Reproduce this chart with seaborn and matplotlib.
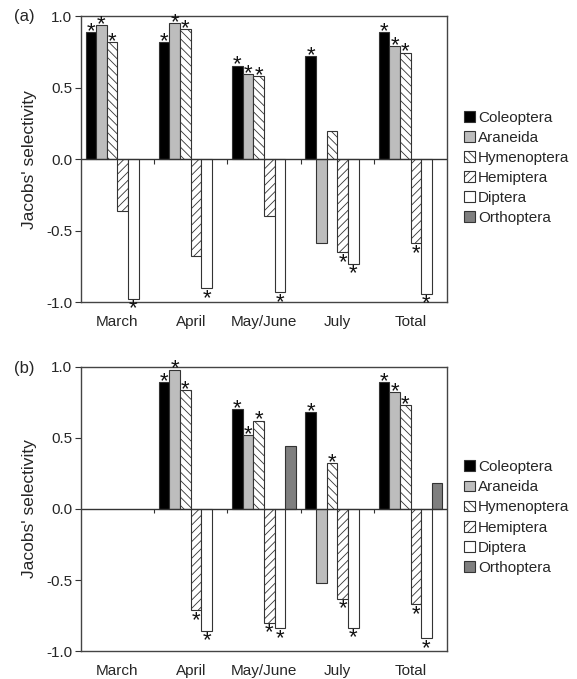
import numpy as np
import pandas as pd
import matplotlib
matplotlib.use('Agg')
import matplotlib.pyplot as plt
import seaborn as sns
from matplotlib.patches import Patch

sns.set_style('white')
plt.rcParams['font.family'] = ['Liberation Sans', 'DejaVu Sans']
plt.rcParams['hatch.linewidth'] = 0.6
plt.rcParams['hatch.color'] = '#222222'

months = ['March', 'April', 'May/June', 'July', 'Total']
taxa = ['Coleoptera', 'Araneida', 'Hymenoptera', 'Hemiptera', 'Diptera', 'Orthoptera']
nan = np.nan

# panel (a)
col_a = [0.89, 0.82, 0.655, 0.72, 0.89]
ara_a = [0.94, 0.95, 0.595, -0.585, 0.79]
hym_a = [0.82, 0.91, 0.58, 0.20, 0.745]
hem_a = [-0.36, -0.68, -0.40, -0.65, -0.585]
dip_a = [-0.975, -0.90, -0.93, -0.73, -0.94]
ort_a = [nan, nan, nan, nan, nan]
# significance (*) flags
sig_a = {
    'Coleoptera': [1, 1, 1, 1, 1],
    'Araneida': [1, 1, 1, 0, 1],
    'Hymenoptera': [1, 1, 1, 0, 1],
    'Hemiptera': [0, 0, 0, 1, 1],
    'Diptera': [1, 1, 1, 1, 1],
    'Orthoptera': [0, 0, 0, 0, 0],
}

# panel (b)
col_b = [nan, 0.89, 0.70, 0.68, 0.89]
ara_b = [nan, 0.98, 0.52, -0.52, 0.82]
hym_b = [nan, 0.835, 0.62, 0.32, 0.73]
hem_b = [nan, -0.71, -0.80, -0.63, -0.67]
dip_b = [nan, -0.855, -0.84, -0.835, -0.91]
ort_b = [nan, nan, 0.44, nan, 0.18]
sig_b = {
    'Coleoptera': [0, 1, 1, 1, 1],
    'Araneida': [0, 1, 1, 0, 1],
    'Hymenoptera': [0, 1, 1, 1, 1],
    'Hemiptera': [0, 1, 1, 1, 1],
    'Diptera': [0, 1, 1, 1, 1],
    'Orthoptera': [0, 0, 0, 0, 0],
}

colors = {'Coleoptera': '#000000', 'Araneida': '#bdbdbd', 'Hymenoptera': '#ffffff',
          'Hemiptera': '#ffffff', 'Diptera': '#ffffff', 'Orthoptera': '#7f7f7f'}
hatches = {'Hymenoptera': '\\\\\\\\', 'Hemiptera': '////'}
W = 0.87
bw = W / len(taxa)


def long_df(vals, sig):
    rows = []
    for t, v in zip(taxa, vals):
        for m, y, s in zip(months, v, sig[t]):
            rows.append({'month': m, 'taxon': t, 'value': y, 'sig': s})
    return pd.DataFrame(rows)


def panel(ax, df):
    d = df.dropna(subset=['value'])
    sns.barplot(data=d, x='month', y='value', hue='taxon', order=months, hue_order=taxa,
                palette=colors, width=W, errorbar=None, edgecolor='#333333',
                linewidth=0.8, legend=False, ax=ax)
    # hatching by dodge slot
    for p in ax.patches:
        if p.get_height() == 0 or np.isnan(p.get_height()):
            continue
        c = p.get_x() + p.get_width() / 2
        off = c - round(c)
        k = int(round((off + W / 2) / bw - 0.5))
        t = taxa[k]
        if t in hatches:
            p.set_hatch(hatches[t])
    # asterisks
    for _, r in d[d['sig'] == 1].iterrows():
        k = taxa.index(r['taxon'])
        x = months.index(r['month']) + (k - 2.5) * bw
        y = r['value']
        dy = -3.5 if y > 0 else -11.5
        ax.annotate('*', (x, y), xytext=(0, dy), textcoords='offset points',
                    ha='center', va='baseline', fontsize=16, color='#111111')
    ax.axhline(0, color='#333333', lw=1)
    ax.vlines([0.5, 1.5, 2.5, 3.5], -0.03, 0, color='#333333', lw=0.8)
    ax.set_xlim(-0.5, 4.5)
    ax.set_ylim(-1, 1)
    ax.set_yticks([-1, -0.5, 0, 0.5, 1])
    ax.set_yticklabels(['-1.0', '-0.5', '0.0', '0.5', '1.0'])
    ax.tick_params(axis='y', direction='out', length=4, width=0.8, color='#333333',
                   labelsize=11, pad=2, left=True)
    ax.tick_params(axis='x', length=0, labelsize=11, pad=9)
    ax.set_xlabel('')
    ax.set_ylabel("Jacobs' selectivity", fontsize=12.5, labelpad=7)
    for s in ax.spines.values():
        s.set_color('#444444')
        s.set_linewidth(1)
    handles = [Patch(facecolor=colors[t], edgecolor='#333333', linewidth=0.8,
                     hatch=hatches.get(t, '')) for t in taxa]
    ax.legend(handles, taxa, loc='center left', bbox_to_anchor=(1.03, 0.47),
              frameon=False, fontsize=11, handlelength=0.7, handleheight=0.7,
              handletextpad=0.2, labelspacing=0.4, borderaxespad=0)


fig = plt.figure(figsize=(5.77, 6.79), dpi=100)
ax1 = fig.add_axes([0.140, 0.555, 0.635, 0.421])
ax2 = fig.add_axes([0.140, 0.041, 0.635, 0.419])

panel(ax1, long_df([col_a, ara_a, hym_a, hem_a, dip_a, ort_a], sig_a))
panel(ax2, long_df([col_b, ara_b, hym_b, hem_b, dip_b, ort_b], sig_b))

fig.text(0.025, 0.976, '(a)', fontsize=12, va='center')
fig.text(0.025, 0.457, '(b)', fontsize=12, va='center')

fig.savefig('out.png', dpi=100)
